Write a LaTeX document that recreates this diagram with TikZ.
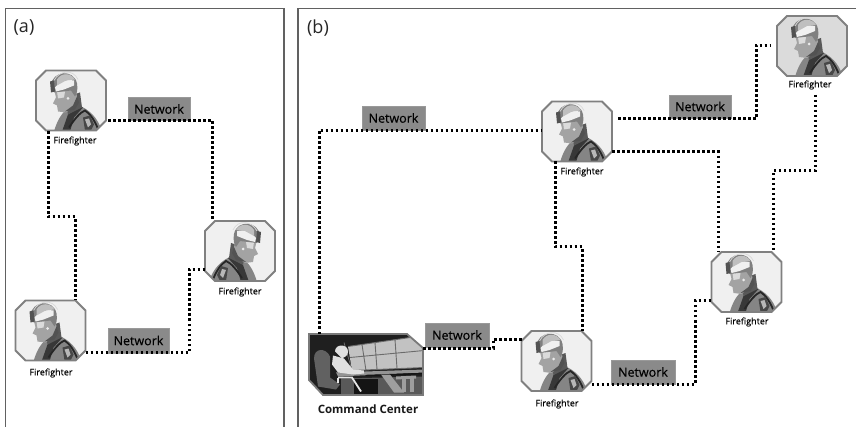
\documentclass[tikz,border=0pt]{standalone}
\usepackage{fontspec}
\setmainfont{Open Sans}
\newfontfamily\labelfont[FakeBold=0.25]{Open Sans}
\usetikzlibrary{calc}
\newcommand{\drawman}{%
  % torso
  \fill[black!48] (-17,31) .. controls (-14,20) and (-9,12) .. (-3,8) -- (8,5) .. controls (18,9) and (27,17) .. (31,31) -- cycle;
  \fill[black!78] (-9,31) -- (-3,14) -- (8,7) -- (12,7) -- (3,17) -- (-1,31) -- cycle;
  % neck
  \fill[black!65] (-6,-3) -- (9,-8) -- (11,7) -- (-3,14) -- cycle;
  % face
  \fill[black!36] (-17,-11) -- (-15,-3) -- (-18,3) -- (-14,5) -- (-13,11) -- (-5,12) -- (2,7) -- (6,-3) -- (5,-11) -- cycle;
  \fill[black!68] (-6,11) -- (2,5) -- (6,-4) -- (8,2) -- (4,9) -- cycle;
  \fill[black!14] (-14,-9) -- (-6,-9) -- (-7,-3) -- (-13,-2) -- cycle;
  \fill[black!8] (-3,-2) circle (1.5);
  % helmet
  \fill[black!50] (-20,-15) .. controls (-19,-30) and (3,-32) .. (6,-17) .. controls (7,-11) and (6,-7) .. (4,-4) -- (0,-10) -- (-17,-8) -- cycle;
  \fill[black!6] (-16,-13) .. controls (-12,-19) and (-4,-22) .. (3,-20) -- (3,-15) -- (-7,-11) -- (-15,-9) -- cycle;
  \fill[black!25] (-14,-21) .. controls (-10,-28) and (0,-28) .. (4,-21) -- (-5,-20) -- (-14,-15) -- cycle;
  \draw[black!15,line width=.7pt] (-17,-20) .. controls (-12,-30) and (2,-32) .. (7,-21);
  \fill[black!68] (-21,-19) -- (-17,-20) -- (-16,-9) -- (-20,-8) -- cycle;
  % straps and patch
  \draw[black!85,line width=1.8pt] (-2,27) .. controls (4,18) and (9,12) .. (14,10) .. controls (19,13) and (24,20) .. (28,31);
  \fill[black!72] (12,17) -- (19,15) -- (23,24) -- (20,30) -- (14,30) -- cycle;
  \fill[black!28] (14,19) -- (18,18) -- (20,24) -- (17,27) -- cycle;
}
\newcommand{\drawcenter}{%
  \fill[black!88] (-58,-32) rectangle (58,32);
  % wall screens
  \fill[black!24] (-18,-18) -- (58,-29) -- (58,3) -- (-14,6) -- cycle;
  \draw[black!58,line width=.9pt] (-18,-18) -- (58,-29) (-14,6) -- (58,3)
    (-16,-7) -- (58,-14) (-4,-20) -- (0,6) (9,-22) -- (11,5) (29,-25) -- (31,4);
  \draw[black!55,line width=.7pt] (-22,-22) -- (-14,6);
  % desk
  \fill[black!42] (-30,8) -- (58,5) -- (58,8) -- (-28,12) -- cycle;
  \draw[black!92,line width=1.4pt] (0,11) -- (58,9);
  \fill[black!65] (-25,14) -- (58,12) -- (58,32) -- (-25,32) -- cycle;
  \fill[black!92] (-12,14) rectangle (12,32);
  \fill[black!38] (15,10) -- (24,10) -- (38,28) -- (28,28) -- cycle;
  \fill[black!38] (30,12) -- (50,11) -- (50,14) -- (30,15) -- cycle;
  \fill[black!38] (36,13) -- (40,13) -- (40,27) -- (36,27) -- cycle;
  \fill[black!38] (44,13) -- (48,13) -- (48,27) -- (44,27) -- cycle;
  % chair
  \fill[black!62] (-52,-6) .. controls (-52,-17) and (-40,-17) .. (-36,-8) -- (-36,13) -- (-26,20) -- (-30,25) -- (-48,22) -- cycle;
  % operator
  \fill[black!12] (-31,-13) .. controls (-31,-21) and (-18,-21) .. (-18,-13) .. controls (-18,-9) and (-21,-7) .. (-24,-6) -- cycle;
  \fill[black!12] (-33,-9) -- (-22,-6) -- (-13,5) -- (-2,6) -- (-2,9) -- (-13,10) -- (-28,8) -- (-34,0) -- cycle;
  \draw[black!10,line width=1.8pt] (-28,13) -- (-14,13) -- (-5,27);
  \draw[black!10,line width=1.8pt] (-28,13) -- (-28,18);
}
\tikzset{
  x=1pt,y=-1pt,
  ffslot/.style={rectangle,draw=none,minimum width=70pt,minimum height=60pt,inner sep=0pt,outer sep=0pt},
  ffline/.style={draw=black!50,line width=1.8pt,fill=black!6},
  ccline/.style={draw=black!52,line width=1.8pt},
  netbox/.style={fill=black!46,draw=black!40,line width=.5pt,text=black,font=\labelfont\fontsize{12.5}{14}\selectfont,
    minimum height=23pt,inner sep=0pt},
  ffname/.style={font=\labelfont\fontsize{9}{10}\selectfont,text=black,inner sep=0pt},
  panel/.style={draw=black!62,line width=1.1pt},
  panellabel/.style={font=\fontsize{18}{20}\selectfont,text=black!85,inner sep=0pt},
  dotted link/.style={draw=black,line width=3pt,dash pattern=on 2.5pt off 2.5pt},
}
% [fill], name, x, y, xscale (1 faces left, -1 faces right)
\newcommand{\ffnode}[5][black!6]{%
  \node[ffslot] (#2) at (#3,#4) {};
  \path[ffline,fill=#1,path picture={\begin{scope}[shift={(#2.center)},xscale=#5]\drawman\end{scope}}]
    ($(#2.north west)+(10,0)$) -- ($(#2.north east)+(-10,0)$) -- ($(#2.north east)+(0,10)$)
    -- ($(#2.south east)+(0,-10)$) -- ($(#2.south east)+(-10,0)$) -- ($(#2.south west)+(10,0)$)
    -- ($(#2.south west)+(0,-10)$) -- ($(#2.north west)+(0,10)$) -- cycle;
}
\begin{document}
\begin{tikzpicture}
\useasboundingbox (0,0) rectangle (856,427);
\fill[white] (0,0) rectangle (856,427);
% panels
\coordinate (pa1) at (5.5,440); \coordinate (pa2) at (5.5,8.5); \coordinate (pa3) at (284,8.5); \coordinate (pa4) at (284,440);
\coordinate (pb1) at (298,440); \coordinate (pb2) at (298,8.5); \coordinate (pb3) at (856,8.5);
\draw[panel] (pa1) -- (pa2) -- (pa3) -- (pa4);
\draw[panel] (pb1) -- (pb2) -- (pb3);
\node[panellabel] (la) at (24,28) {(a)};
\node[panellabel] (lb) at (318,28) {(b)};

% waypoints
\coordinate (w1) at (212,120.5);
\coordinate (w2) at (48,217); \coordinate (w3) at (75,217);
\coordinate (w4) at (189,352.5); \coordinate (w5) at (189,269.5);
\coordinate (w6) at (319,130.5);
\coordinate (w7) at (756,119); \coordinate (w8) at (756,45.5);
\coordinate (w9) at (718,152);
\coordinate (w10) at (555,247); \coordinate (w11) at (582,247);
\coordinate (w12) at (815,171); \coordinate (w13) at (773,171);
\coordinate (w14) at (493,348); \coordinate (w15) at (493,339);
\coordinate (w16) at (695,384); \coordinate (w17) at (695,301);

% network boxes
\node[netbox,minimum width=62pt] (na1) at (159,109) {Network};
\node[netbox,minimum width=61pt,minimum height=25pt] (na2) at (138.5,340.5) {Network};
\node[netbox,minimum width=63pt,minimum height=24pt] (nb1) at (393.5,118) {Network};
\node[netbox,minimum width=62pt] (nb2) at (700,106.5) {Network};
\node[netbox,minimum width=64pt,minimum height=24pt] (nb3) at (457,335) {Network};
\node[netbox,minimum width=64pt,minimum height=24pt] (nb4) at (643,372) {Network};

% firefighters
\ffnode{a1}{71}{100.5}{1}
\ffnode{a2}{240}{251}{-1}
\ffnode{a3}{50.5}{330.5}{1}
\ffnode{b1}{577}{131.5}{1}
\ffnode[black!14]{b2}{812}{46}{1}
\ffnode{b3}{746.5}{282}{1}
\ffnode{b4}{556.5}{361}{1}

% command center
\node[ffslot,minimum width=114pt,minimum height=61pt] (cc) at (366,364.5) {};
\path[ccline,path picture={\begin{scope}[shift={(cc.center)}]\drawcenter\end{scope}}]
  (cc.north west) -- ($(cc.north east)+(-16,0)$) -- ($(cc.north east)+(0,14)$) -- (cc.south east)
  -- ($(cc.south west)+(14,0)$) -- ($(cc.south west)+(0,-15)$) -- cycle;

% labels
\node[ffname] (ta1) at (75,141) {Firefighter};
\node[ffname] (ta2) at (240,292) {Firefighter};
\node[ffname] (ta3) at (51,373) {Firefighter};
\node[ffname] (tb1) at (582,172) {Firefighter};
\node[ffname] (tb2) at (810,85) {Firefighter};
\node[ffname] (tb3) at (747,322) {Firefighter};
\node[ffname] (tb4) at (557,404) {Firefighter};
\node[inner sep=0pt,font=\fontsize{11.5}{13}\selectfont\bfseries,text=black!90] (tcc) at (368,409) {Command Center};

% connectors
\draw[dotted link] ($(a1.east |- w1)+(2,0)$) -- (w1) -- (a2.north -| w1);
\draw[dotted link] ($(a1.south -| w2)+(0,1)$) -- (w2) -- (w3) -- (a3.north -| w3);
\draw[dotted link] (a3.east |- w4) -- (w4) -- (w5) -- (a2.west |- w5);
\draw[dotted link] (cc.north -| w6) -- (w6) -- (b1.west |- w6);
\draw[dotted link] ($(b1.east |- w7)+(6,0)$) -- (w7) -- (w8) -- ($(b2.west |- w8)+(-7,0)$);
\draw[dotted link] (b1.east |- w9) -- (w9) -- (b3.north -| w9);
\draw[dotted link] (b1.south -| w10) -- (w10) -- (w11) -- (b4.north -| w11);
\draw[dotted link] ($(b2.south -| w12)+(0,19)$) -- (w12) -- (w13) -- (b3.north -| w13);
\draw[dotted link] (cc.east |- w14) -- (w14) -- (w15) -- (b4.west |- w15);
\draw[dotted link] (b4.east |- w16) -- (w16) -- (w17) -- (b3.west |- w17);
\end{tikzpicture}
\end{document}
